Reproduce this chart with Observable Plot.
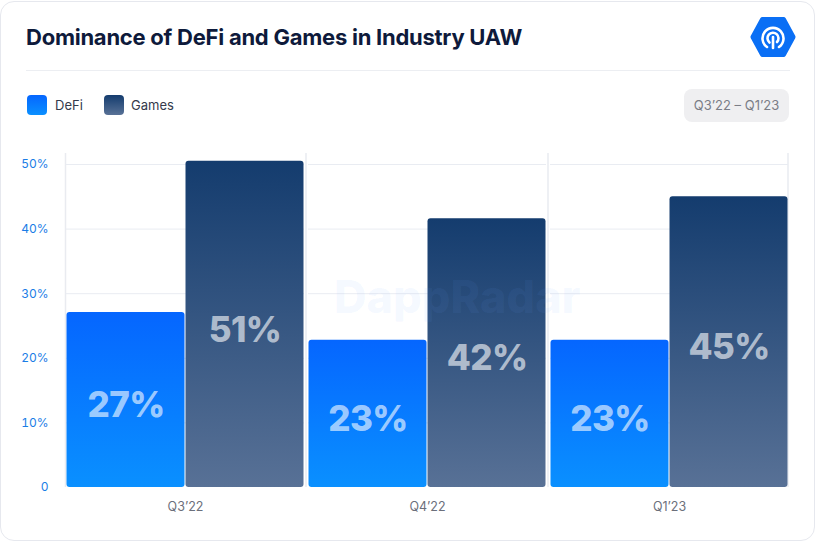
<!DOCTYPE html>
<html><head><meta charset="utf-8">
<script src="https://cdn.jsdelivr.net/npm/d3@7"></script>
<script src="https://cdn.jsdelivr.net/npm/@observablehq/plot@0.6"></script>
<style>
html,body{margin:0;padding:0;background:#fff;}
body{position:relative;width:816px;height:542px;overflow:hidden;font-family:Inter,"Noto Sans",sans-serif;}
#card{position:absolute;left:0;top:1px;width:815px;height:540px;box-sizing:border-box;border:1px solid #e6e8ee;border-radius:14px;background:#fff;}
#title{position:absolute;left:26px;top:24px;font-size:22px;font-weight:700;color:#0e1a3b;letter-spacing:-0.25px;white-space:nowrap;}
#sep{position:absolute;left:26px;top:70px;width:764px;height:1px;background:#eceef2;}
.sw{position:absolute;top:95px;width:20px;height:20px;border-radius:4px;}
.lt{position:absolute;top:97px;font-size:13px;color:#343a4c;}
#pill{position:absolute;left:684px;top:89px;width:105px;height:33px;border-radius:8px;background:#efeff1;color:#7a7d86;font-size:13px;line-height:33px;text-align:center;white-space:nowrap;}
#chart{position:absolute;left:0;top:140px;}
#wm{position:absolute;left:334px;top:272px;font-size:45px;line-height:50px;font-weight:800;color:rgba(110,160,255,0.07);pointer-events:none;white-space:nowrap;}
</style></head>
<body>
<svg width="0" height="0" style="position:absolute">
  <defs>
    <linearGradient id="gDefi" x1="0" y1="0" x2="0" y2="1">
      <stop offset="0" stop-color="#0566ff"/><stop offset="1" stop-color="#0a90ff"/>
    </linearGradient>
    <linearGradient id="gGames" x1="0" y1="0" x2="0" y2="1">
      <stop offset="0" stop-color="#143c6e"/><stop offset="1" stop-color="#587196"/>
    </linearGradient>
  </defs>
</svg>
<div id="card"></div>
<div id="title">Dominance of DeFi and Games in Industry UAW</div>
<svg style="position:absolute;left:748px;top:14px" width="50" height="46" viewBox="0 0 50 46">
  <path d="M5 23 L14.5 5.5 L35.5 5.5 L45 23 L35.5 40.5 L14.5 40.5 Z" fill="#0a6ff5" stroke="#0a6ff5" stroke-width="5" stroke-linejoin="round"/>
  <path d="M19 33 A10.5 10.5 0 1 1 31 33" fill="none" stroke="#fff" stroke-width="2.6" stroke-linecap="round"/>
  <path d="M21.5 28.5 A5.5 5.5 0 1 1 29 28" fill="none" stroke="#fff" stroke-width="2.6" stroke-linecap="round"/>
  <path d="M25 23 L25 34" fill="none" stroke="#fff" stroke-width="2.6" stroke-linecap="round"/>
</svg>
<div id="sep"></div>
<div class="sw" style="left:27px;background:linear-gradient(#0566ff,#0a90ff)"></div>
<div class="lt" style="left:55px">DeFi</div>
<div class="sw" style="left:104px;background:linear-gradient(#143c6e,#587196)"></div>
<div class="lt" style="left:131px">Games</div>
<div id="pill">Q3’22 – Q1’23</div>
<div id="chart"></div>
<div id="wm">DappRadar</div>
<script>
const quarters = ["Q3’22", "Q4’22", "Q1’23"];
const series = ["DeFi", "Games"];
const defiValues = [27.1, 22.8, 22.8];
const gamesValues = [50.5, 41.6, 45.0];
const defiLabels = ["27%", "23%", "23%"];
const gamesLabels = ["51%", "42%", "45%"];
const yTicks = [0, 10, 20, 30, 40, 50];
const yMax = 51.7;

const rows = quarters.flatMap((q, i) => [
  {q, s: "DeFi", v: defiValues[i], label: defiLabels[i]},
  {q, s: "Games", v: gamesValues[i], label: gamesLabels[i]}
]);

const plot = Plot.plot({
  width: 816, height: 400,
  marginLeft: 66, marginRight: 28, marginTop: 13, marginBottom: 53,
  style: {fontFamily: "Inter, 'Noto Sans', sans-serif", fontSize: "12px", background: "transparent", overflow: "visible"},
  fx: {domain: quarters, paddingInner: 0.0166, paddingOuter: 0, label: null},
  x: {domain: series, padding: 0, axis: null},
  y: {domain: [0, yMax], axis: null},
  marks: [
    Plot.gridY(yTicks.filter(d => d > 0), {stroke: "#e9ecf2", strokeOpacity: 1}),
    Plot.barY(rows.filter(d => d.s === "DeFi"), {fx: "q", x: "s", y: "v", fill: "url(#gDefi)", rx: 3, insetLeft: 0.5, insetRight: 0.5}),
    Plot.barY(rows.filter(d => d.s === "Games"), {fx: "q", x: "s", y: "v", fill: "url(#gGames)", rx: 3, insetLeft: 0.5, insetRight: 0.5}),
    Plot.text(rows, {fx: "q", x: "s", y: d => d.v / 2, text: "label", fill: "white", fillOpacity: 0.62, fontSize: 35, fontWeight: 800, dy: 6}),
    Plot.axisY(yTicks, {tickSize: 0, tickPadding: 18, tickFormat: d => d === 0 ? "0" : d + "%", color: "#1a7de6", label: null, fontSize: 12}),
    Plot.axisFx({anchor: "bottom", tickSize: 0, tickPadding: 15, color: "#6b6f7b", label: null, fontSize: 12.5})
  ]
});
document.getElementById("chart").appendChild(plot);

// vertical group separators, placed from the fx and y scales
const fx = plot.scale("fx"), ys = plot.scale("y");
const bw = fx.bandwidth, gap = fx.step - fx.bandwidth;
const xs = [fx.apply(quarters[0]) - 0.5]
  .concat(quarters.slice(0, -1).map(q => fx.apply(q) + bw + gap / 2))
  .concat([fx.apply(quarters[quarters.length - 1]) + bw]);
const svg = d3.select(plot);
svg.selectAll("g[aria-label='text'] text").style("letter-spacing", "-0.6px");
const g = svg.insert("g", ":first-child").attr("stroke", "#e9ebf0").attr("stroke-width", 1.5);
xs.forEach(x => g.append("line").attr("x1", x).attr("x2", x).attr("y1", ys.apply(yMax)).attr("y2", ys.apply(0)));
svg.select("style").lower();
</script>
</body></html>
